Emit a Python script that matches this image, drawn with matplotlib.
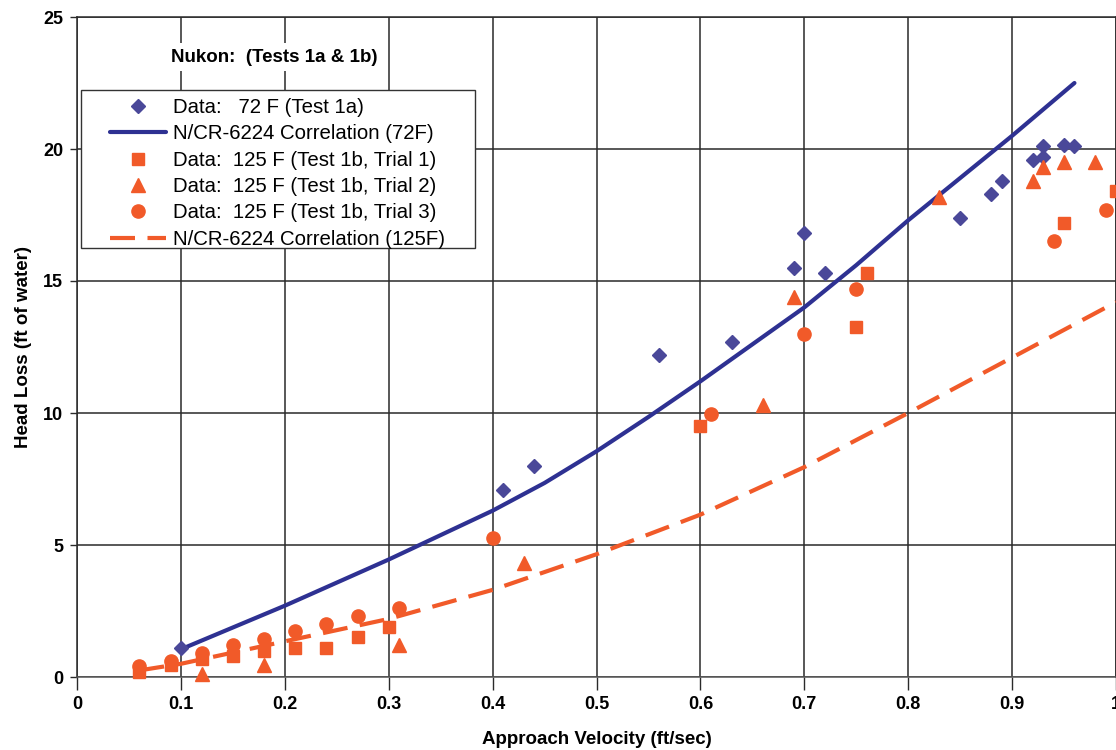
import matplotlib
matplotlib.use("Agg")
import matplotlib.pyplot as plt
from matplotlib.patches import Rectangle

plt.rcParams['font.family'] = ['Liberation Sans', 'DejaVu Sans']

# ---- data ----
v_72 = [0.10, 0.41, 0.44, 0.56, 0.63, 0.69, 0.70, 0.72, 0.85, 0.88, 0.89,
        0.92, 0.93, 0.93, 0.95, 0.96]
h_72 = [1.1, 7.1, 8.0, 12.2, 12.7, 15.5, 16.8, 15.3, 17.4, 18.3, 18.8,
        19.6, 20.1, 19.7, 20.15, 20.1]

v_t1 = [0.06, 0.09, 0.12, 0.15, 0.18, 0.21, 0.24, 0.27, 0.30, 0.60, 0.75,
        0.76, 0.95, 1.00]
h_t1 = [0.2, 0.45, 0.7, 0.8, 1.0, 1.1, 1.1, 1.5, 1.9, 9.5, 13.25, 15.3,
        17.2, 18.4]

v_t2 = [0.12, 0.18, 0.31, 0.43, 0.66, 0.69, 0.83, 0.92, 0.93, 0.95, 0.98]
h_t2 = [0.1, 0.45, 1.2, 4.3, 10.3, 14.4, 18.2, 18.8, 19.3, 19.5, 19.5]

v_t3 = [0.06, 0.09, 0.12, 0.15, 0.18, 0.21, 0.24, 0.27, 0.31, 0.40, 0.61,
        0.70, 0.75, 0.94, 0.99]
h_t3 = [0.4, 0.6, 0.9, 1.2, 1.45, 1.75, 2.0, 2.3, 2.6, 5.25, 9.95, 13.0,
        14.7, 16.5, 17.7]

corr72_v = [0.10, 0.20, 0.30, 0.40, 0.45, 0.50, 0.55, 0.60, 0.65, 0.70,
            0.75, 0.80, 0.85, 0.90, 0.96]
corr72_h = [1.05, 2.7, 4.45, 6.3, 7.35, 8.55, 9.85, 11.2, 12.6, 14.0,
            15.6, 17.3, 18.9, 20.5, 22.5]

corr125_v = [0.06, 0.10, 0.20, 0.30, 0.40, 0.50, 0.60, 0.70, 0.80, 0.90, 1.00]
corr125_h = [0.25, 0.5, 1.35, 2.2, 3.3, 4.65, 6.15, 7.95, 10.0, 12.1, 14.2]

labels = ["Data:   72 F (Test 1a)",
          "N/CR-6224 Correlation (72F)",
          "Data:  125 F (Test 1b, Trial 1)",
          "Data:  125 F (Test 1b, Trial 2)",
          "Data:  125 F (Test 1b, Trial 3)",
          "N/CR-6224 Correlation (125F)"]

x_ticks = [0, 0.1, 0.2, 0.3, 0.4, 0.5, 0.6, 0.7, 0.8, 0.9, 1.0]
x_ticklabels = ["0", "0.1", "0.2", "0.3", "0.4", "0.5", "0.6", "0.7", "0.8", "0.9", "1"]
y_ticks = [0, 5, 10, 15, 20, 25]

# ---- styling ----
BLUE_LINE = "#2e3192"
BLUE_MK = "#4a4899"
ORANGE = "#f15a29"
GRID = "#2a2a2a"
W, H = 1116, 750

fig = plt.figure(figsize=(W / 100, H / 100), dpi=100)
ax = fig.add_axes([77 / W, (H - 677) / H, 1 - 77 / W, (677 - 17) / H])

ax.set_xlim(0, 1)
ax.set_ylim(0, 25)
ax.set_xticks(x_ticks)
ax.set_xticklabels(x_ticklabels)
ax.set_yticks(y_ticks)
ax.grid(True, color=GRID, linewidth=1.1, zorder=0)
ax.set_axisbelow(True)
for s in ax.spines.values():
    s.set_color(GRID)
    s.set_linewidth(1.1)
ax.spines['bottom'].set_color("#555555")

ax.tick_params(axis='x', direction='out', length=9, width=1.0, pad=5,
               labelsize=13, colors=GRID)
ax.tick_params(axis='y', direction='out', length=5, width=1.0, pad=5,
               labelsize=13, colors=GRID)
for t in ax.get_xticklabels() + ax.get_yticklabels():
    t.set_fontweight('bold')
    t.set_color('black')

l_corr72, = ax.plot(corr72_v, corr72_h, color=BLUE_LINE, linewidth=3.0,
                    solid_capstyle='round', solid_joinstyle='round', zorder=3)
l_corr125, = ax.plot(corr125_v, corr125_h, color=ORANGE, linewidth=3.0,
                     dashes=(6.0, 3.0), zorder=3)
m72, = ax.plot(v_72, h_72, linestyle='none', marker='D', markersize=7.5,
               color=BLUE_MK, zorder=4, clip_on=False)
mt1, = ax.plot(v_t1, h_t1, linestyle='none', marker='s', markersize=9,
               color=ORANGE, zorder=4, clip_on=False)
mt2, = ax.plot(v_t2, h_t2, linestyle='none', marker='^', markersize=10,
               color=ORANGE, zorder=4, clip_on=False)
mt3, = ax.plot(v_t3, h_t3, linestyle='none', marker='o', markersize=9.5,
               color=ORANGE, zorder=4, clip_on=False)

ax.set_xlabel("Approach Velocity (ft/sec)", fontsize=13.5, fontweight='bold',
              labelpad=13)
ax.set_ylabel("Head Loss (ft of water)", fontsize=13.5, fontweight='bold',
              labelpad=8)

fig.text(274 / W, 1 - 57 / H, "Nukon:  (Tests 1a & 1b)", fontsize=13.5,
         fontweight='bold', ha='center', va='center',
         bbox=dict(facecolor='white', edgecolor='none', pad=4))

# legend frame drawn at its place in the reference
frame = Rectangle((81 / W, 1 - 248 / H), (475 - 81) / W, (248 - 90) / H,
                  transform=fig.transFigure, facecolor='white',
                  edgecolor="#333333", linewidth=1.0, zorder=5)
fig.add_artist(frame)

leg = fig.legend([m72, l_corr72, mt1, mt2, mt3, l_corr125], labels,
                 loc='upper left', bbox_to_anchor=(110 / W, 1 - 98 / H),
                 bbox_transform=fig.transFigure, fontsize=14.7, frameon=False,
                 handlelength=2.75, handletextpad=0.35, labelspacing=0.36,
                 borderpad=0, borderaxespad=0, numpoints=1)
leg.set_zorder(6)

fig.savefig("out.png", dpi=100, facecolor='white')
